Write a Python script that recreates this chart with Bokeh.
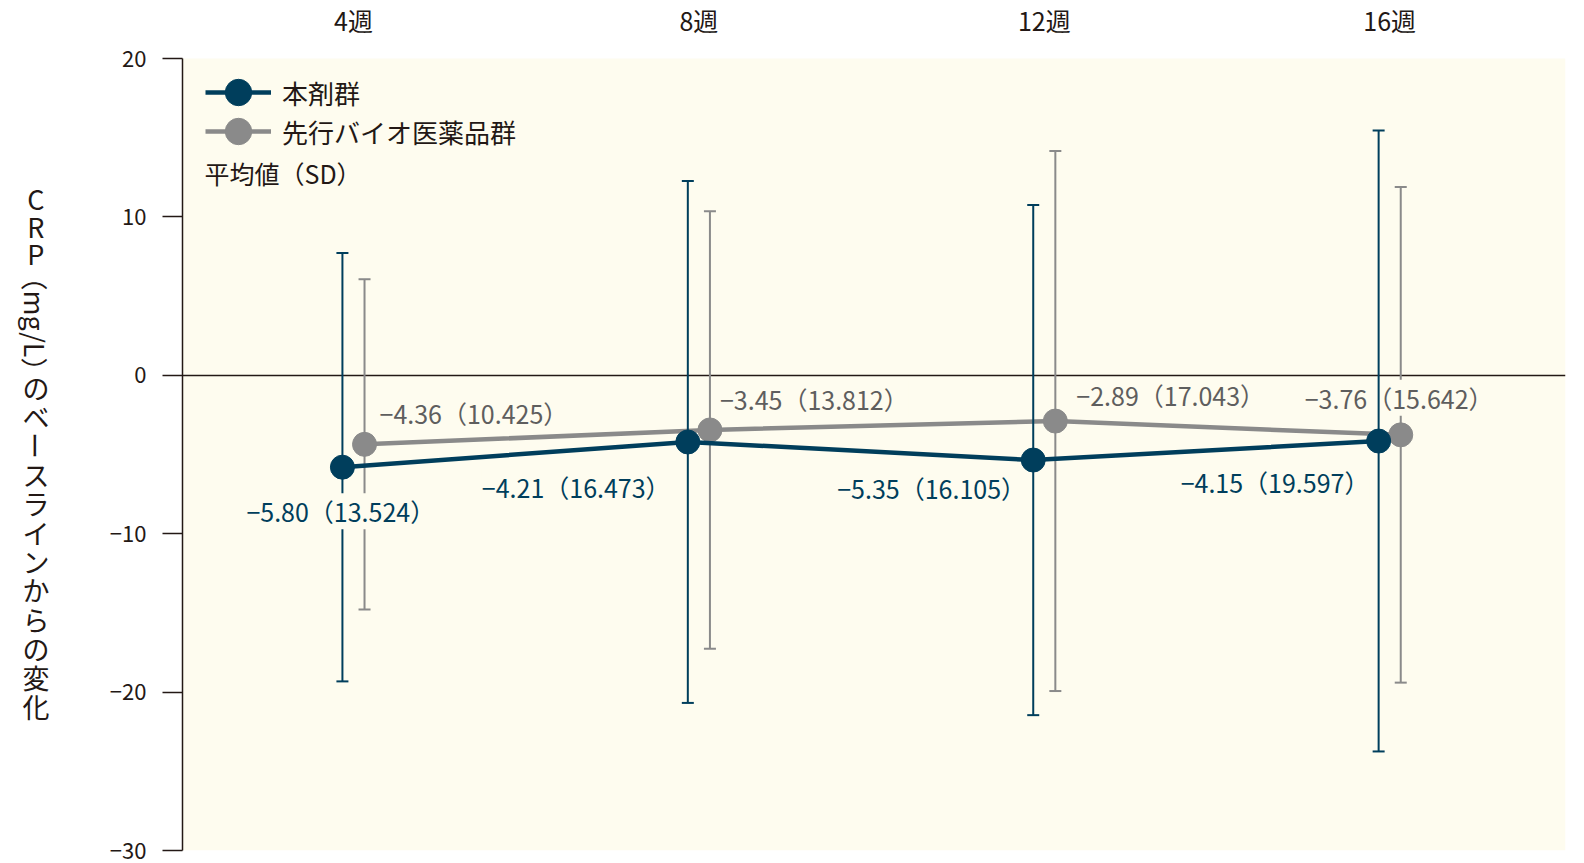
import numpy as np
from bokeh.plotting import figure
from bokeh.layouts import row
from bokeh.models import (ColumnDataSource, Range1d, FixedTicker, Label, Legend, LegendItem)
from bokeh.embed import file_html
from bokeh.resources import INLINE
from bokeh.core.properties import value

# ---------------- data ----------------
weeks = ["4週", "8週", "12週", "16週"]
drug_mean = [-5.80, -4.21, -5.35, -4.15]
drug_sd = [13.524, 16.473, 16.105, 19.597]
ref_mean = [-4.36, -3.45, -2.89, -3.76]
ref_sd = [10.425, 13.812, 17.043, 15.642]
series_names = ["本剤群", "先行バイオ医薬品群"]
stat_note = "平均値（SD）"
y_ticks = [-30, -20, -10, 0, 10, 20]
y_title = "CRP（mg/L）のベースラインからの変化"

# ---------------- style / layout ----------------
FONT = "Noto Sans CJK JP"
NAVY = "#003E5C"
GRAY = "#8A8A8A"
GRAY_TXT = "#5E5E5E"
BG = "#FEFCEF"
INK = "#231815"
XMIN, XMAX = 0.005, 4.009
YMIN, YMAX = -30, 20
DODGE = 0.032
HEAD = 58                 # px between top of page and the plotting panel
PANEL_H = 792             # px height of the plotting panel (-30 .. 20)
BOTTOM = 14
FRAME_H = HEAD + PANEL_H
H = FRAME_H + BOTTOM
YTOP = YMAX + HEAD * (YMAX - YMIN) / PANEL_H
TW = 100                  # width of the title strip
PW = 1490                 # width of the chart
LEFT = 82
FRAME_W = 1383
RIGHT = PW - LEFT - FRAME_W

# label offsets (screen px, left edge of text relative to point)
drug_lab_dx = [-96, -206, -196, -198]
drug_lab_dy = [44, 45, 28, 41]
ref_lab_dx = [15, 10, 21, -96]
ref_lab_dy = [-31, -31, -26, -37]

pos = np.arange(len(weeks)) + 0.5


def fmt(m, s):
    return (f"{m:.2f}（{s:.3f}）").replace("-", "−")


p = figure(width=PW, height=H, x_range=Range1d(XMIN, XMAX), y_range=Range1d(YMIN, YTOP),
           output_backend="svg", toolbar_location=None, x_axis_location=None,
           min_border_left=LEFT, min_border_right=RIGHT, min_border_top=0,
           min_border_bottom=BOTTOM)
p.background_fill_color = "white"
p.border_fill_color = "white"
p.outline_line_color = None
p.xgrid.visible = False
p.ygrid.visible = False

# plotting panel background (the value range -30 .. 20)
p.quad(left=[XMIN], right=[XMAX], bottom=[YMIN], top=[YMAX], fill_color=BG, line_color=None)

# left axis
ya = p.yaxis[0]
ya.bounds = (YMIN, YMAX)
ya.ticker = FixedTicker(ticks=y_ticks)
ya.major_label_overrides = {t: str(t).replace("-", "−") for t in y_ticks}
ya.axis_line_color = INK
ya.axis_line_width = 1.5
ya.major_tick_line_color = INK
ya.major_tick_line_width = 1.5
ya.major_tick_out = 20
ya.major_tick_in = 0
ya.minor_tick_line_color = None
ya.major_label_standoff = 16
ya.major_label_text_font = FONT
ya.major_label_text_font_size = "22px"
ya.major_label_text_color = INK

# week labels above the panel
p.text(x=pos, y=[YMAX] * len(weeks), text=weeks, y_offset=-39,
       text_align="center", text_baseline="middle", text_font=value(FONT),
       text_font_size="25px", text_color=INK)

# zero line
p.hspan(y=[0], line_color=INK, line_width=1.5)


def draw_series(mean, sd, color, txt_color, dx, lab_dx, lab_dy):
    src = ColumnDataSource(dict(
        x=pos + dx,
        mean=mean,
        upper=[m + s for m, s in zip(mean, sd)],
        lower=[m - s for m, s in zip(mean, sd)],
        label=[fmt(m, s) for m, s in zip(mean, sd)],
        ldx=lab_dx,
        ldy=lab_dy,
    ))
    p.segment(x0="x", y0="lower", x1="x", y1="upper", source=src, line_color=color, line_width=2)
    p.scatter(x="x", y="upper", marker="dash", size=12, line_color=color, line_width=2, source=src)
    p.scatter(x="x", y="lower", marker="dash", size=12, line_color=color, line_width=2, source=src)
    ln = p.line(x="x", y="mean", source=src, line_color=color, line_width=4.5)
    pts = p.scatter(x="x", y="mean", source=src, size=24, fill_color=color, line_color=color)
    p.text(x="x", y="mean", text="label", x_offset="ldx", y_offset="ldy", source=src,
           text_align="left", text_baseline="middle", text_font=value(FONT),
           text_font_size="25px", text_color=txt_color, background_fill_color=BG)
    return ln, pts


g_ln, g_pts = draw_series(ref_mean, ref_sd, GRAY, GRAY_TXT, DODGE, ref_lab_dx, ref_lab_dy)
n_ln, n_pts = draw_series(drug_mean, drug_sd, NAVY, NAVY, -DODGE, drug_lab_dx, drug_lab_dy)

for name, rens, top_rel in ((series_names[0], [n_ln, n_pts], HEAD + 1),
                            (series_names[1], [g_ln, g_pts], HEAD + 40)):
    lg = Legend(items=[LegendItem(label=name, renderers=rens)],
                location=(23, FRAME_H - top_rel - 66), glyph_width=66, glyph_height=66,
                label_standoff=11, label_text_font=FONT, label_text_font_size="26px",
                label_text_color=INK, background_fill_alpha=0, border_line_color=None,
                padding=0, margin=0)
    p.add_layout(lg)

p.add_layout(Label(x=XMIN, y=YMAX, x_offset=22, y_offset=-114, text=stat_note,
                   text_align="left", text_baseline="middle", text_font=FONT,
                   text_font_size="25px", text_color=INK))

# vertical y-axis title in its own strip (upright characters, Latin unit rotated)
t = figure(width=TW, height=H, x_range=Range1d(0, TW), y_range=Range1d(0, FRAME_H),
           output_backend="svg", toolbar_location=None,
           x_axis_location=None, y_axis_location=None,
           min_border_left=0, min_border_right=0, min_border_top=0,
           min_border_bottom=BOTTOM)
t.outline_line_color = None
t.background_fill_color = "white"
t.border_fill_color = "white"
t.xgrid.visible = False
t.ygrid.visible = False
segs = list(y_title[:3]) + [y_title[3:9]] + list(y_title[9:])
seg_y = [198, 225.5, 252.8, 323.5, 386.7, 415.5, 444.9, 474.2, 502.5, 531.8, 561.1,
         589.4, 618.7, 648, 677.4, 705.7]
t.text(x=[35.4] * len(segs), y=[FRAME_H - yy for yy in seg_y], text=segs,
       angle=[-np.pi / 2 if s in ("（mg/L）", "ー") else 0 for s in segs],
       text_align="center", text_baseline="middle", text_font=value(FONT),
       text_font_size="27px", text_color=INK)

layout = row(t, p)
open("out.html", "w").write(file_html(layout, INLINE))
